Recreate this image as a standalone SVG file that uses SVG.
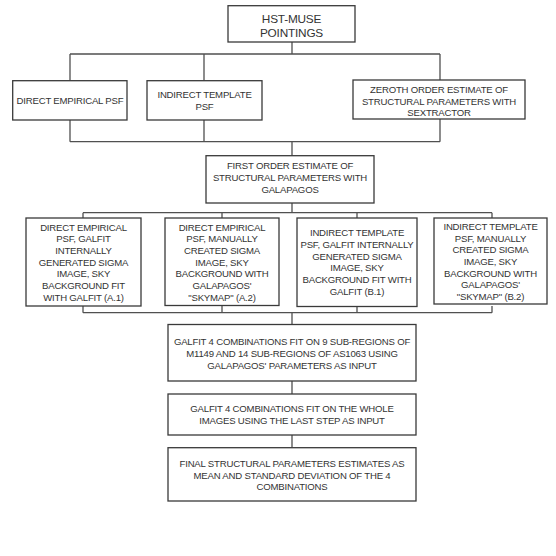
<svg xmlns="http://www.w3.org/2000/svg" width="556" height="556" viewBox="0 0 556 556">
<style>
.box{fill:#fff;stroke:#3a3a3a;stroke-width:1.3}
.t{font-family:"Liberation Sans",Arial,sans-serif;font-size:9.6px;letter-spacing:-0.2px;fill:#333;text-anchor:middle}
.big{font-size:11.8px}
.c{fill:none;stroke:#505050;stroke-width:1.3}
</style>
<rect width="556" height="556" fill="#fff"/>
<g id="connectors">
<path class="c" d="M292 42V54M70 54H440M70 54V80.7M204 54V80.7M440 54V80"/>
<path class="c" d="M70 120V141.7M204 120V141.7M440 119V141.7M70 141.7H440M292 141.7V155.7"/>
<path class="c" d="M292 203V212.7M83 212.7H492M83 212.7V218M222 212.7V218M357 212.7V218M492 212.7V218"/>
<path class="c" d="M83 306V312.7M222 306V312.7M357 306V312.7M492 306V312.7M83 312.7H492M292 312.7V324.5"/>
<path class="c" d="M292 381V394M292 435V447.7"/>
</g>
<g id="hst">
<rect class="box" x="228" y="5.7" width="127" height="36.3"/>
<text class="t big" x="291.5" y="22.5">HST-MUSE</text>
<text class="t big" x="291.5" y="36.5">POINTINGS</text>
</g>
<g id="direct-psf">
<rect class="box" x="12.7" y="80.7" width="114.3" height="39.3"/>
<text class="t" x="70" y="103.5">DIRECT EMPIRICAL PSF</text>
</g>
<g id="indirect-psf">
<rect class="box" x="147" y="80.7" width="115" height="39.3"/>
<text class="t" x="204.5" y="97.8">INDIRECT TEMPLATE</text>
<text class="t" x="204.5" y="110.2">PSF</text>
</g>
<g id="zeroth">
<rect class="box" x="353" y="80" width="172" height="39"/>
<text class="t" x="439" y="92.8">ZEROTH ORDER ESTIMATE OF</text>
<text class="t" x="439" y="104.8">STRUCTURAL PARAMETERS WITH</text>
<text class="t" x="439" y="116.3">SEXTRACTOR</text>
</g>
<g id="first">
<rect class="box" x="206" y="155.7" width="168" height="47.3"/>
<text class="t" x="290" y="169.2">FIRST ORDER ESTIMATE OF</text>
<text class="t" x="290" y="181.2">STRUCTURAL PARAMETERS WITH</text>
<text class="t" x="290" y="193.3">GALAPAGOS</text>
</g>
<g id="a1">
<rect class="box" x="26" y="218" width="115" height="88"/>
<text class="t" x="83.5" y="230.5">DIRECT EMPIRICAL</text>
<text class="t" x="83.5" y="242.2">PSF, GALFIT</text>
<text class="t" x="83.5" y="253.8">INTERNALLY</text>
<text class="t" x="83.5" y="265.5">GENERATED SIGMA</text>
<text class="t" x="83.5" y="277.2">IMAGE, SKY</text>
<text class="t" x="83.5" y="288.8">BACKGROUND FIT</text>
<text class="t" x="83.5" y="300.5">WITH GALFIT (A.1)</text>
</g>
<g id="a2">
<rect class="box" x="165" y="218" width="114" height="87.5"/>
<text class="t" x="222" y="230.5">DIRECT EMPIRICAL</text>
<text class="t" x="222" y="242.2">PSF, MANUALLY</text>
<text class="t" x="222" y="253.8">CREATED SIGMA</text>
<text class="t" x="222" y="265.5">IMAGE, SKY</text>
<text class="t" x="222" y="277.2">BACKGROUND WITH</text>
<text class="t" x="222" y="288.8">GALAPAGOS'</text>
<text class="t" x="222" y="300.5">"SKYMAP" (A.2)</text>
</g>
<g id="b1">
<rect class="box" x="297" y="218" width="120" height="88.5"/>
<text class="t" x="357" y="236.3">INDIRECT TEMPLATE</text>
<text class="t" x="357" y="248">PSF, GALFIT INTERNALLY</text>
<text class="t" x="357" y="259.7">GENERATED SIGMA</text>
<text class="t" x="357" y="271.3">IMAGE, SKY</text>
<text class="t" x="357" y="283">BACKGROUND FIT WITH</text>
<text class="t" x="357" y="294.7">GALFIT (B.1)</text>
</g>
<g id="b2">
<rect class="box" x="434" y="218" width="113" height="86"/>
<text class="t" x="490.5" y="229.8">INDIRECT TEMPLATE</text>
<text class="t" x="490.5" y="241.5">PSF, MANUALLY</text>
<text class="t" x="490.5" y="253.1">CREATED SIGMA</text>
<text class="t" x="490.5" y="264.8">IMAGE, SKY</text>
<text class="t" x="490.5" y="276.5">BACKGROUND WITH</text>
<text class="t" x="490.5" y="288.1">GALAPAGOS'</text>
<text class="t" x="490.5" y="299.8">"SKYMAP" (B.2)</text>
</g>
<g id="galfit-sub">
<rect class="box" x="168" y="324.5" width="248" height="56.5"/>
<text class="t" x="292" y="345.2">GALFIT 4 COMBINATIONS FIT ON 9 SUB-REGIONS OF</text>
<text class="t" x="292" y="356.8">M1149 AND 14 SUB-REGIONS OF AS1063 USING</text>
<text class="t" x="292" y="368.5">GALAPAGOS' PARAMETERS AS INPUT</text>
</g>
<g id="galfit-whole">
<rect class="box" x="168" y="394" width="248" height="41"/>
<text class="t" x="292" y="411.8">GALFIT 4 COMBINATIONS FIT ON THE WHOLE</text>
<text class="t" x="292" y="423.5">IMAGES USING THE LAST STEP AS INPUT</text>
</g>
<g id="final">
<rect class="box" x="168" y="447.7" width="248" height="53.3"/>
<text class="t" x="292" y="466.8">FINAL STRUCTURAL PARAMETERS ESTIMATES AS</text>
<text class="t" x="292" y="478.5">MEAN AND STANDARD DEVIATION OF THE 4</text>
<text class="t" x="292" y="489.8">COMBINATIONS</text>
</g>
</svg>
